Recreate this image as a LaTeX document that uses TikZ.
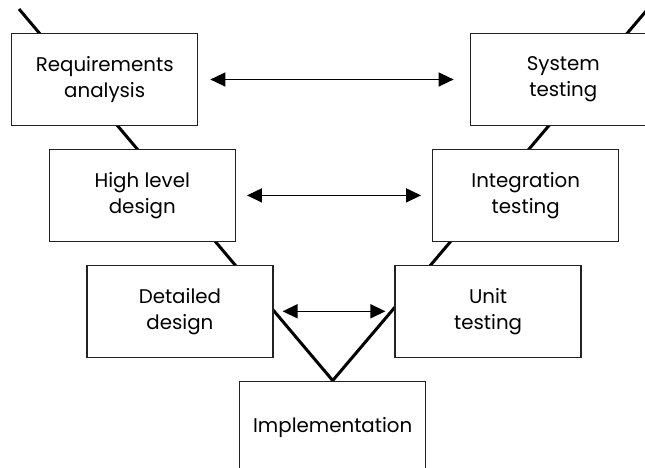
\documentclass[tikz,border=0pt]{standalone}
\usepackage{fontspec}
\setmainfont{Poppins}
\usepackage{xcolor}
\definecolor{boxline}{HTML}{222222}
\usepackage{tikz}
\usetikzlibrary{arrows.meta,positioning,backgrounds}

\begin{document}
\begin{tikzpicture}[
  x=1pt,y=1pt,
  node distance=22.6pt and 271.3pt,
  every node/.style={font=\fontsize{19.8}{26}\selectfont,align=center},
  vbox/.style={draw=boxline,line width=1.3pt,fill=white,inner sep=0pt,minimum width=186pt,minimum height=92pt},
  vline/.style={line width=3pt,black},
  ar/.style={{Triangle[length=15pt,width=14pt]}-{Triangle[length=15pt,width=14pt]},line width=1.5pt}
]
\useasboundingbox (0,0) rectangle (645,-468);
\node[vbox] (req) at (104.7,-79.5) {Requirements\\analysis};
\node[vbox,right=of req] (sys) {System\\testing};
\node[vbox,below=of req,xshift=37.6pt] (high) {High level\\design};
\node[vbox,below=of sys,xshift=-37.6pt] (integ) {Integration\\testing};
\node[vbox,below=of high,xshift=37.6pt] (detail) {Detailed\\design};
\node[vbox,below=of integ,xshift=-37.6pt] (unit) {Unit\\testing};
\node[vbox,below=of detail,xshift=152.8pt] (impl) {Implementation};
\coordinate (ltop) at (19,-9);
\coordinate (rtop) at (647.8,-9);
\begin{scope}[on background layer]
\draw[vline] (ltop) -- (impl.north) -- (rtop);
\end{scope}
\draw[ar,shorten <=12pt,shorten >=16pt] (req) -- (sys);
\draw[ar,shorten <=11pt,shorten >=11pt] (high) -- (integ);
\draw[ar,shorten <=9pt,shorten >=9pt] (detail) -- (unit);
\end{tikzpicture}
\end{document}
